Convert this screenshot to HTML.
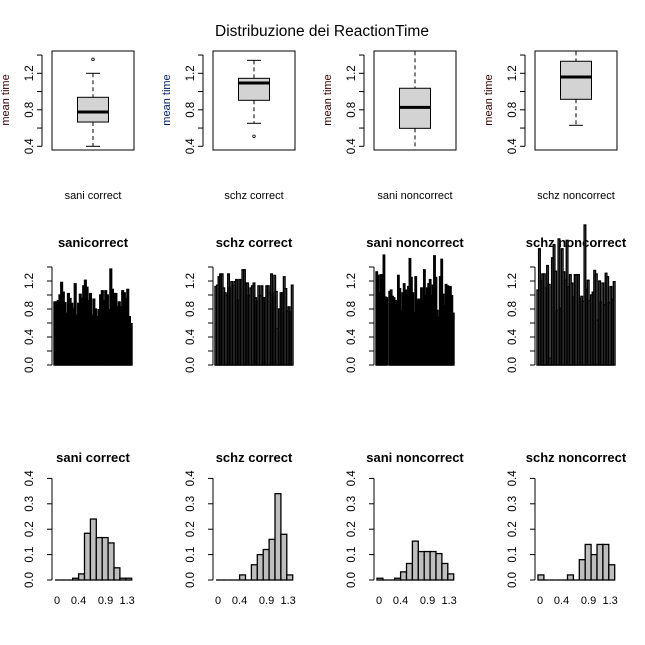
<!DOCTYPE html>
<html><head><meta charset="utf-8"><style>
body{margin:0;background:#fff}
svg{display:block;font-family:"Liberation Sans",Arial,sans-serif}
</style></head><body>
<svg id="c" width="645" height="645" viewBox="0 0 645 645">
<rect width="645" height="645" fill="#fff"/>
<text x="322" y="36" font-size="15.5" text-anchor="middle" fill="#000">Distribuzione dei ReactionTime</text>
</svg>
<script>
const groups=["sani correct","schz correct","sani noncorrect","schz noncorrect"];
const barTitles=["sanicorrect","schz correct","sani noncorrect","schz noncorrect"];
const histTitles=["sani correct","schz correct","sani noncorrect","schz noncorrect"];
// boxplot stats
const boxLow=[0.40,0.652,0.36,0.63];
const boxQ1=[0.666,0.904,0.597,0.915];
const boxMed=[0.776,1.094,0.827,1.16];
const boxQ3=[0.937,1.145,1.036,1.332];
const boxHigh=[1.20,1.342,1.44,1.44];
const boxOut=[[1.353],[0.51],[],[]];
const boxTicks=[0.4,0.6,0.8,1.0,1.2,1.4];
const boxTickLabels=["0.4","","0.8","","1.2",""];
// bar series
const bars1=[0.90,0.90,0.92,1.0,1.18,1.04,0.89,0.74,1.02,0.95,0.88,0.81,1.16,0.71,0.88,1.01,0.95,1.13,1.21,1.11,0.92,1.02,0.71,0.94,0.80,0.69,0.79,1.0,1.06,0.92,1.06,1.0,0.79,1.37,1.08,1.02,1.02,0.83,0.90,0.83,1.06,1.03,0.95,1.08,0.69,0.59];
const bars2=[1.12,1.14,1.26,1.30,1.30,1.10,1.03,0.99,1.30,1.10,1.19,1.13,1.19,1.22,0.93,1.22,1.22,1.36,1.36,1.17,1.17,0.99,1.10,1.13,1.17,0.96,0.91,1.13,0.99,1.13,0.96,0.96,1.13,1.13,1.03,1.30,1.02,1.28,1.05,0.52,0.80,1.03,1.03,1.26,1.09,0.77,0.83,0.76,1.14];
const bars3=[1.33,1.28,1.03,1.29,1.29,1.57,0.97,0.96,0.0,1.05,1.07,0.98,0.96,0.92,0.92,1.28,1.09,0.77,1.03,1.16,1.07,1.0,1.12,1.52,1.25,1.03,0.75,1.26,0.91,0.94,0.94,1.10,0.94,1.36,0.99,1.10,1.16,1.22,0.99,1.14,1.56,1.25,0.78,0.68,1.26,1.51,1.01,0.85,1.15,1.13,1.12,1.12,0.99,0.74];
const bars4=[1.07,1.66,1.20,1.30,1.30,1.10,1.42,1.15,0.10,1.53,1.72,1.34,0.78,1.80,0.81,1.66,1.33,1.21,1.78,1.12,1.29,1.17,0.97,1.29,1.29,1.29,0.95,0.98,0.91,2.0,1.08,1.21,0.92,1.00,1.04,1.35,1.30,0.64,1.20,0.90,1.17,0.86,1.31,1.26,0.89,1.12,0.94,1.19];
const barSeries=[bars1,bars2,bars3,bars4];
const barTicks=[0,0.2,0.4,0.6,0.8,1.0,1.2,1.4];
const barTickLabels=["0.0","","0.4","","0.8","","1.2",""];
// histogram densities (13 bins over 0..1.4)
const hist1=[0,0,0,0.007,0.024,0.184,0.24,0.167,0.167,0.146,0.048,0.007,0.007];
const hist2=[0,0,0,0,0.02,0,0.06,0.10,0.12,0.16,0.34,0.18,0.02];
const hist3=[0.007,0,0,0.007,0.032,0.065,0.153,0.112,0.112,0.112,0.104,0.065,0.024];
const hist4=[0.02,0,0,0,0,0.02,0,0.08,0.14,0.10,0.14,0.14,0.06];
const histSeries=[hist1,hist2,hist3,hist4];
const histYTicks=[0,0.1,0.2,0.3,0.4];
const histYLabels=["0.0","0.1","0.2","0.3","0.4"];
const histXTicks=[0,0.4,0.9,1.3];
const histXLabels=["0","0.4","0.9","1.3"];

const NS="http://www.w3.org/2000/svg";
const svg=document.getElementById('c');
function el(tag,attrs,parent,text){const e=document.createElementNS(NS,tag);for(const k in attrs)e.setAttribute(k,attrs[k]);if(text!==undefined)e.textContent=text;(parent||svg).appendChild(e);return e;}
const axisX=[52,213,374,535];

// ---- boxplots ----
function byBox(v){return 146.3-(v-0.4)*91.25;}
groups.forEach((g,i)=>{
  const ax=axisX[i];
  const grp=el('g',{});
  
  
  const fr=el('rect',{x:ax,y:51,width:82,height:99,fill:'none',stroke:'#000','stroke-width':1},grp);
  
  
  el('line',{x1:ax-10,x2:ax-10,y1:byBox(0.4),y2:byBox(1.4),stroke:'#000'},grp);
  boxTicks.forEach((t,k)=>{
    el('line',{x1:ax-15,x2:ax-10,y1:byBox(t),y2:byBox(t),stroke:'#000'},grp);
    if(boxTickLabels[k]){const tx=el('text',{x:ax-19,y:byBox(t),'font-size':11.5,'text-anchor':'middle',transform:`rotate(-90 ${ax-19} ${byBox(t)})`},grp,boxTickLabels[k]);
      }
  });
  const yl=el('text',{x:ax-43,y:100,'font-size':11,'text-anchor':'middle',transform:`rotate(-90 ${ax-43} 100)`,fill:i==1?'#002060':'#300'},grp,'mean time');
  
  const cx=ax+41;
  el('line',{x1:cx,x2:cx,y1:byBox(boxHigh[i]),y2:byBox(boxQ3[i]),stroke:'#000','stroke-dasharray':'4,3'},grp);
  el('line',{x1:cx,x2:cx,y1:byBox(boxQ1[i]),y2:byBox(boxLow[i]),stroke:'#000','stroke-dasharray':'4,3'},grp);
  if(boxHigh[i]<1.43) el('line',{x1:cx-7,x2:cx+7,y1:byBox(boxHigh[i]),y2:byBox(boxHigh[i]),stroke:'#000'},grp);
  if(boxLow[i]>0.37) el('line',{x1:cx-7,x2:cx+7,y1:byBox(boxLow[i]),y2:byBox(boxLow[i]),stroke:'#000'},grp);
  const b=el('rect',{x:cx-15.5,y:byBox(boxQ3[i]),width:31,height:byBox(boxQ1[i])-byBox(boxQ3[i]),fill:'#d3d3d3',stroke:'#000'},grp);
  
  el('line',{x1:cx-15.5,x2:cx+15.5,y1:byBox(boxMed[i]),y2:byBox(boxMed[i]),stroke:'#000','stroke-width':3},grp);
  boxOut[i].forEach(o=>{const c=el('circle',{cx:cx,cy:byBox(o),r:1.3,fill:'none',stroke:'#000','stroke-width':0.8},grp);
    });
  const xl=el('text',{x:cx,y:199,'font-size':11,'text-anchor':'middle'},grp,g);
  
});

// ---- barplots ----
function byBar(v){return 365-v*70;}
const barFill=['#000','#bebebe','#000','#bebebe'];
barSeries.forEach((s,i)=>{
  const ax=axisX[i];
  const grp=el('g',{});
  
  
  const t=el('text',{x:ax+41,y:247,'font-size':13,'font-weight':'bold','text-anchor':'middle'},grp,barTitles[i]);
  
  el('line',{x1:ax,x2:ax,y1:byBar(0),y2:byBar(1.4),stroke:'#000'},grp);
  barTicks.forEach((tk,k)=>{
    el('line',{x1:ax-5,x2:ax,y1:byBar(tk),y2:byBar(tk),stroke:'#000'},grp);
    if(barTickLabels[k]){const tx=el('text',{x:ax-19,y:byBar(tk),'font-size':11.5,'text-anchor':'middle',transform:`rotate(-90 ${ax-19} ${byBar(tk)})`},grp,barTickLabels[k]);
      }
  });
  const x0=ax+2, w=78/s.length;
  s.forEach((v,k)=>{
    const r=el('rect',{x:x0+k*w,y:byBar(v),width:w,height:v*70,fill:barFill[i],stroke:'#000','stroke-width':1.4},grp);
    
  });
});

// ---- histograms ----
function byH(v){return 580-v*254;}
histSeries.forEach((s,i)=>{
  const ax=axisX[i];
  const grp=el('g',{});
  
  
  const t=el('text',{x:ax+41,y:462,'font-size':13,'font-weight':'bold','text-anchor':'middle'},grp,histTitles[i]);
  
  el('line',{x1:ax,x2:ax,y1:byH(0),y2:byH(0.4),stroke:'#000'},grp);
  histYTicks.forEach((tk,k)=>{
    el('line',{x1:ax-5,x2:ax,y1:byH(tk),y2:byH(tk),stroke:'#000'},grp);
    const tx=el('text',{x:ax-19,y:byH(tk),'font-size':11.5,'text-anchor':'middle',transform:`rotate(-90 ${ax-19} ${byH(tk)})`},grp,histYLabels[k]);
    
  });
  const x0=ax+3, bw=76.7/13, ux=bw*13/1.4;
  s.forEach((v,k)=>{
    if(v>0){
      const r=el('rect',{x:x0+k*bw,y:byH(v),width:bw,height:v*254,fill:'#bebebe',stroke:'#000','stroke-width':1.3},grp);
      
    } else {
      const r=el('line',{x1:x0+k*bw,x2:x0+(k+1)*bw,y1:byH(0),y2:byH(0),stroke:'#000','stroke-width':1.3},grp);
      
    }
  });
  histXTicks.forEach((tk,k)=>{
    const tx=el('text',{x:x0+2+tk*ux*0.985,y:604,'font-size':11,'text-anchor':'middle'},grp,histXLabels[k]);
    
  });
});
</script>
</body></html>
